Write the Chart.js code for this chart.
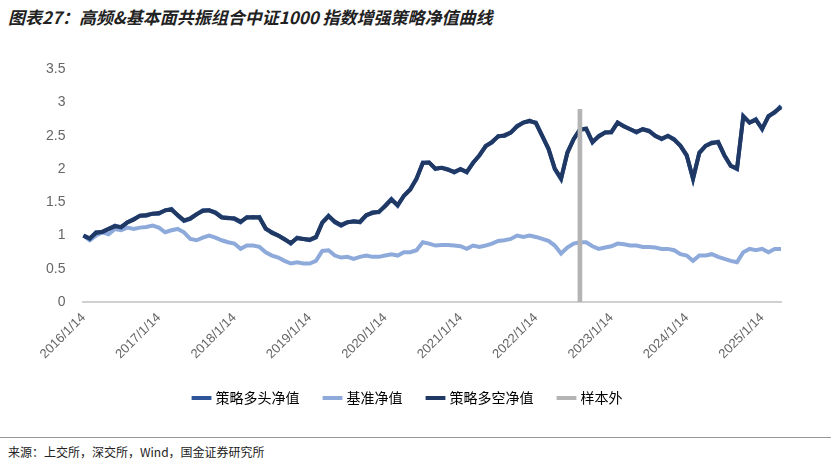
<!DOCTYPE html>
<html><head><meta charset="utf-8">
<script src="https://cdn.jsdelivr.net/npm/chart.js@4"></script>
<style>
body{margin:0;width:831px;height:467px;background:#fff;font-family:"Noto Sans CJK SC",sans-serif;position:relative;overflow:hidden}
#t{position:absolute;left:8px;top:4px;font-size:17px;font-weight:bold;font-style:italic;color:#222}
#l2{position:absolute;left:0;top:437px;width:831px;border-top:1px solid #999}
#f{position:absolute;left:8px;top:443px;font-size:12px;color:#222}
#c{position:absolute;left:0;top:51px;width:831px;height:364px}
</style></head><body>
<div id="t">图表27：高频&amp;基本面共振组合中证1000 指数增强策略净值曲线</div>
<div id="c"><canvas id="cv"></canvas></div>
<div id="l2"></div>
<div id="f">来源：上交所，深交所，Wind，国金证券研究所</div>
<script>
const months=[];
for(let y=2016;y<=2025;y++)for(let m=1;m<=12;m++){if(y===2025&&m>4)break;months.push(y+'/'+m+'/14');}
const strategy=[
1.0,0.95,1.05,1.05,1.1,1.15,1.12,1.2,1.25,1.3,1.3,1.33,
1.33,1.38,1.4,1.3,1.22,1.25,1.32,1.38,1.38,1.35,1.28,1.27,
1.25,1.2,1.28,1.27,1.28,1.1,1.05,1.0,0.95,0.88,0.97,0.95,
0.93,0.97,1.2,1.3,1.2,1.15,1.2,1.22,1.2,1.3,1.35,1.35,
1.45,1.55,1.45,1.6,1.7,1.85,2.1,2.1,2.0,2.02,2.0,1.95,
2.0,1.95,2.1,2.2,2.35,2.4,2.5,2.5,2.55,2.65,2.7,2.72,
2.7,2.5,2.3,2.0,1.85,2.25,2.45,2.6,2.6,2.4,2.5,2.55,
2.55,2.7,2.65,2.6,2.55,2.6,2.58,2.5,2.45,2.5,2.45,2.35,
2.2,1.85,2.25,2.35,2.4,2.4,2.2,2.05,2.0,2.8,2.7,2.75,
2.6,2.8,2.85,2.95];
const longShort=[
1.0,0.96,1.04,1.06,1.1,1.14,1.13,1.2,1.24,1.3,1.31,1.33,
1.34,1.38,1.39,1.31,1.23,1.26,1.32,1.37,1.38,1.34,1.27,1.26,
1.26,1.21,1.27,1.28,1.27,1.11,1.04,1.0,0.94,0.89,0.96,0.95,
0.94,0.98,1.19,1.29,1.21,1.16,1.2,1.21,1.21,1.31,1.34,1.36,
1.44,1.54,1.46,1.6,1.69,1.86,2.09,2.1,2.01,2.02,1.99,1.96,
2.0,1.96,2.09,2.21,2.34,2.41,2.49,2.51,2.55,2.64,2.7,2.73,
2.69,2.5,2.31,2.01,1.86,2.24,2.45,2.59,2.61,2.41,2.49,2.55,
2.56,2.7,2.64,2.6,2.56,2.6,2.57,2.5,2.46,2.5,2.44,2.35,
2.21,1.86,2.24,2.35,2.39,2.41,2.21,2.05,2.01,2.79,2.7,2.74,
2.61,2.79,2.86,2.93];
const benchmark=[
1.0,0.93,1.0,1.05,1.02,1.1,1.08,1.12,1.1,1.12,1.13,1.15,
1.12,1.05,1.08,1.1,1.05,0.95,0.93,0.97,1.0,0.97,0.93,0.9,
0.88,0.8,0.85,0.85,0.83,0.75,0.7,0.67,0.62,0.58,0.6,0.58,
0.58,0.62,0.77,0.78,0.7,0.67,0.68,0.65,0.68,0.7,0.68,0.68,
0.7,0.72,0.7,0.75,0.75,0.78,0.9,0.88,0.85,0.86,0.86,0.85,
0.84,0.8,0.85,0.83,0.85,0.88,0.92,0.93,0.95,1.0,0.98,1.0,
0.98,0.95,0.92,0.85,0.73,0.82,0.88,0.9,0.9,0.84,0.8,0.82,
0.84,0.88,0.87,0.85,0.85,0.83,0.83,0.82,0.8,0.8,0.78,0.72,
0.7,0.62,0.7,0.7,0.72,0.68,0.65,0.62,0.6,0.75,0.8,0.78,
0.8,0.75,0.8,0.8];
const outSample=months.map(m=>m==='2022/8/14'?2.9:null);
const yTicks=[0,0.5,1,1.5,2,2.5,3,3.5];
new Chart(document.getElementById('cv'),{
 data:{labels:months,datasets:[
  {type:'line',label:'策略多头净值',data:strategy,borderColor:'#2e5597',backgroundColor:'#2e5597',borderWidth:4,pointRadius:0,order:3},
  {type:'line',label:'基准净值',data:benchmark,borderColor:'#8eaadb',backgroundColor:'#8eaadb',borderWidth:4,pointRadius:0,order:4},
  {type:'line',label:'策略多空净值',data:longShort,borderColor:'#1f3864',backgroundColor:'#1f3864',borderWidth:4,pointRadius:0,order:2},
  {type:'bar',label:'样本外',data:outSample,backgroundColor:'#b4b4b4',borderColor:'#b4b4b4',barThickness:4,order:1}
 ]},
 options:{responsive:true,maintainAspectRatio:false,animation:false,
  layout:{padding:{left:36,right:50,top:8}},
  plugins:{legend:{position:'bottom',labels:{usePointStyle:true,pointStyle:'line',boxWidth:40,padding:26,color:'#333',font:{size:14,family:'"Noto Sans CJK SC"'},
    generateLabels:(ch)=>ch.data.datasets.map((d,i)=>({text:d.label,fillStyle:d.borderColor,strokeStyle:d.borderColor,lineWidth:4,pointStyle:'line',datasetIndex:i}))}},
   tooltip:{enabled:false}},
  scales:{
   x:{offset:false,grid:{display:false,drawTicks:true,tickColor:'#d0d0d0',tickLength:5},border:{color:'#d0d0d0',width:2},
    ticks:{autoSkip:false,maxRotation:45,minRotation:45,color:'#666',font:{size:13,family:'Arial'},
     callback:function(v,i){const l=months[i];return l.split('/')[1]==='1'?l:null;}}},
   y:{min:0,max:3.5,afterBuildTicks:a=>{a.ticks=yTicks.map(v=>({value:v}));},grid:{display:false},border:{display:false},
    ticks:{color:'#666',padding:10,font:{size:14,family:'Arial'},callback:v=>String(v)}}
  }}
});
</script></body></html>
